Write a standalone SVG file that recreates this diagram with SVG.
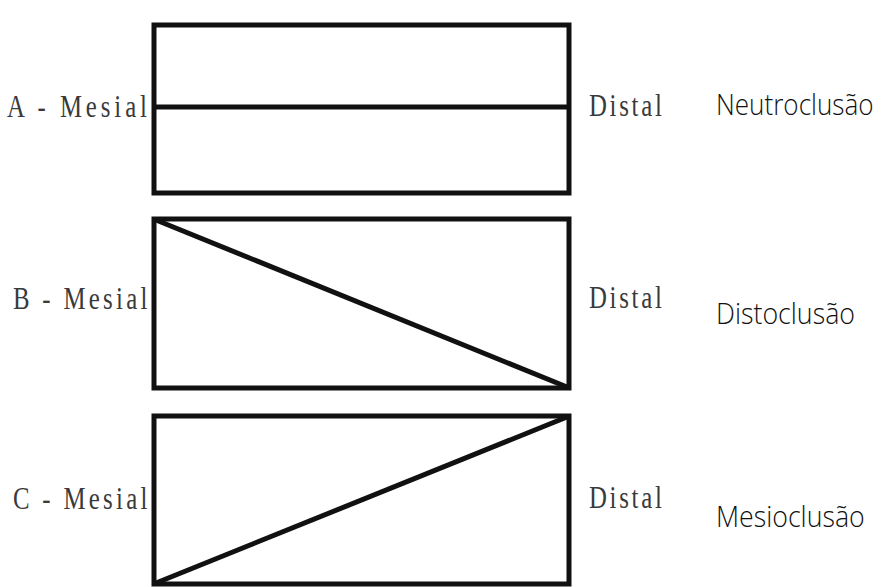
<svg xmlns="http://www.w3.org/2000/svg" width="885" height="587" viewBox="0 0 885 587">
  <style>
    .box { fill: #ffffff; stroke: #111111; stroke-width: 5; }
    .line { stroke: #111111; stroke-width: 5; fill: none; stroke-linecap: butt; }
    .side { font-family: "Liberation Serif", "Times New Roman", serif; font-size: 31px; fill: #3a3a3a; }
    .kind { font-family: "Open Sans", "Noto Sans", sans-serif; font-size: 30px; font-weight: 300; fill: #111111; }
  </style>
  <rect width="885" height="587" fill="#ffffff"/>

  <!-- Class A: neutral occlusion -->
  <g id="row-a">
    <rect class="box" x="154" y="25" width="415" height="168"/>
    <text class="side" transform="translate(7,117) scale(0.8,1)" textLength="175" lengthAdjust="spacing">A - Mesial</text>
    <text class="side" transform="translate(589,116) scale(0.8,1)" textLength="91" lengthAdjust="spacing">Distal</text>
    <text class="kind" transform="translate(716,115) scale(0.88,1)" textLength="179" lengthAdjust="spacingAndGlyphs">Neutroclusão</text>
  </g>

  <!-- Class B: distal occlusion -->
  <g id="row-b">
    <rect class="box" x="154" y="219" width="415" height="169"/>
    <text class="side" transform="translate(13,309) scale(0.8,1)" textLength="168" lengthAdjust="spacing">B - Mesial</text>
    <text class="side" transform="translate(589,308) scale(0.8,1)" textLength="91" lengthAdjust="spacing">Distal</text>
    <text class="kind" transform="translate(716,324) scale(0.88,1)" textLength="158" lengthAdjust="spacingAndGlyphs">Distoclusão</text>
  </g>

  <!-- Class C: mesial occlusion -->
  <g id="row-c">
    <rect class="box" x="154" y="416" width="415" height="168"/>
    <text class="side" transform="translate(13,509) scale(0.8,1)" textLength="168" lengthAdjust="spacing">C - Mesial</text>
    <text class="side" transform="translate(589,508) scale(0.8,1)" textLength="91" lengthAdjust="spacing">Distal</text>
    <text class="kind" transform="translate(716,527) scale(0.88,1)" textLength="169" lengthAdjust="spacingAndGlyphs">Mesioclusão</text>
  </g>

  <!-- Reference lines inside each box -->
  <g id="connectors">
    <line class="line" x1="154" y1="107" x2="569" y2="107"/>
    <line class="line" x1="156" y1="220" x2="567" y2="387"/>
    <line class="line" x1="156" y1="583" x2="567" y2="417"/>
  </g>
</svg>
